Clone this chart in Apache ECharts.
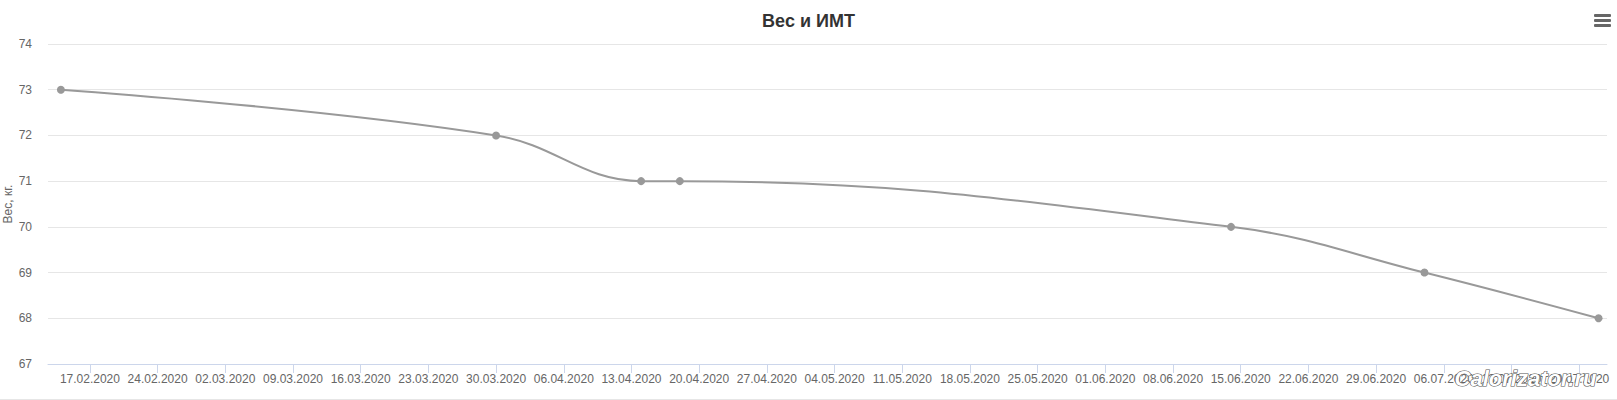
<!DOCTYPE html>
<html>
<head>
<meta charset="utf-8">
<script src="https://cdn.jsdelivr.net/npm/echarts@6/dist/echarts.min.js"></script>
<style>
  html, body { margin: 0; padding: 0; background: #fff; }
  #chart { width: 1617px; height: 399px; border-bottom: 1px solid #e6e6e6; }
</style>
</head>
<body>
<div id="chart"></div>
<script>
// --- data ---
var dates = ['14.02.2020', '30.03.2020', '14.04.2020', '18.04.2020', '14.06.2020', '04.07.2020', '22.07.2020'];
var weights = [73, 72, 71, 71, 70, 69, 68];
var tickDates = [
  '17.02.2020', '24.02.2020', '02.03.2020', '09.03.2020', '16.03.2020', '23.03.2020',
  '30.03.2020', '06.04.2020', '13.04.2020', '20.04.2020', '27.04.2020', '04.05.2020',
  '11.05.2020', '18.05.2020', '25.05.2020', '01.06.2020', '08.06.2020', '15.06.2020',
  '22.06.2020', '29.06.2020', '06.07.2020', '13.07.2020', '20.07.2020'
];

function parseDate(s) {
  var p = s.split('.');
  return new Date(+p[2], +p[1] - 1, +p[0]).getTime();
}
function pad(n) { return n < 10 ? '0' + n : '' + n; }
function fmtDate(v) {
  var d = new Date(v);
  return pad(d.getDate()) + '.' + pad(d.getMonth() + 1) + '.' + d.getFullYear();
}

var tickValues = tickDates.map(parseDate);
var points = dates.map(function(d, i) { return [parseDate(d), weights[i]]; });

var font = 'Arial, "Liberation Sans", sans-serif';
var chart = echarts.init(document.getElementById('chart'), null, { renderer: 'svg' });
chart.setOption({
  animation: false,
  title: {
    text: 'Вес и ИМТ',
    left: 'center',
    top: 7,
    textStyle: { color: '#333', fontSize: 18, fontWeight: 'bold', fontFamily: font }
  },
  grid: { left: 48, right: 10, top: 44, bottom: 35, outerBoundsMode: 'none' },
  xAxis: {
    type: 'value',
    min: new Date(2020, 1, 12, 16).getTime(),
    max: new Date(2020, 6, 22, 21).getTime(),
    axisLine: { lineStyle: { color: '#ccd6eb', width: 1 } },
    axisTick: { show: true, length: 9, lineStyle: { color: '#ccd6eb' }, customValues: tickValues },
    axisLabel: {
      color: '#666', fontSize: 12, fontFamily: font, margin: 9,
      customValues: tickValues,
      formatter: function(v) { return fmtDate(v); }
    },
    splitLine: { show: false }
  },
  yAxis: {
    type: 'value',
    min: 67,
    max: 74,
    interval: 1,
    name: 'Вес, кг.',
    nameLocation: 'middle',
    nameGap: 34,
    nameMoveOverlap: false,
    nameTextStyle: { color: '#666', fontSize: 12, fontFamily: font },
    axisLine: { show: false },
    axisTick: { show: false },
    axisLabel: { color: '#666', fontSize: 12, fontFamily: font, margin: 16 },
    splitLine: { lineStyle: { color: '#e6e6e6', width: 1 } }
  },
  series: [{
    name: 'Вес',
    type: 'line',
    data: points,
    smooth: 0.4,
    symbol: 'circle',
    symbolSize: 8,
    lineStyle: { color: '#999', width: 2 },
    itemStyle: { color: '#999' }
  }],
  graphic: [
    { type: 'rect', shape: { x: 1594, y: 14, width: 17, height: 3, r: 1 }, style: { fill: '#666' } },
    { type: 'rect', shape: { x: 1594, y: 19, width: 17, height: 3, r: 1 }, style: { fill: '#666' } },
    { type: 'rect', shape: { x: 1594, y: 24, width: 17, height: 3, r: 1 }, style: { fill: '#666' } },
    {
      type: 'text', left: 1454, top: 367, z: 100,
      style: {
        text: 'Calorizator.ru',
        font: 'italic bold 22px Arial, "Liberation Sans", sans-serif',
        fill: '#ffffff',
        stroke: '#555', lineWidth: 1.2,
        shadowBlur: 5, shadowColor: 'rgba(0,0,0,1)', shadowOffsetY: 3
      }
    }
  ]
});
window.addEventListener('resize', function() { chart.resize(); });
</script>
</body>
</html>
